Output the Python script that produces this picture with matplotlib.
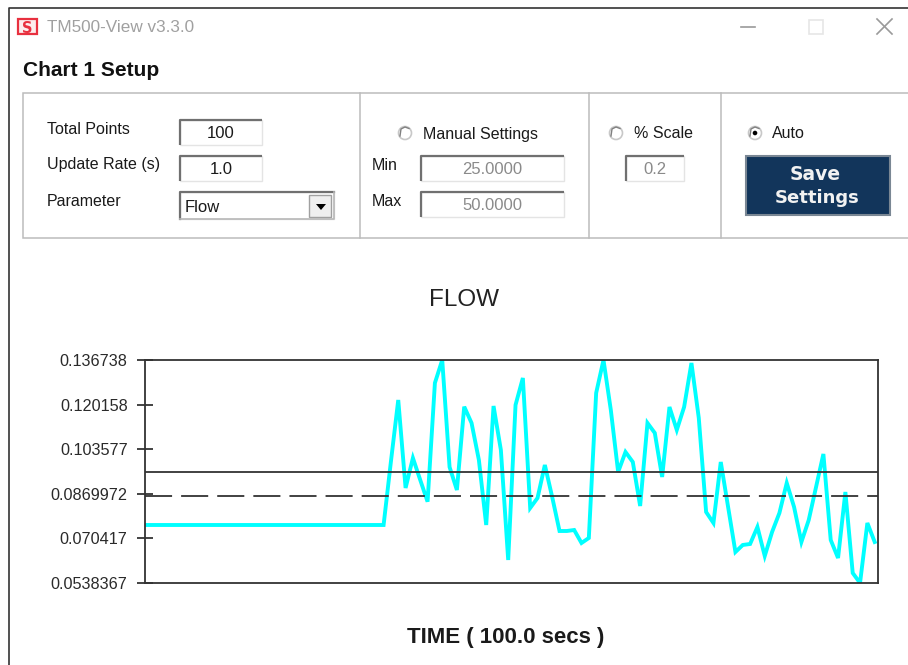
import matplotlib
matplotlib.use("Agg")
import matplotlib.pyplot as plt
from matplotlib.patches import Rectangle, Circle, Polygon

plt.rcParams["font.family"] = ["Liberation Sans", "DejaVu Sans"]

# flat stretch first, then the live readings
flow_flat = [0.07540] * 34
flow_live = [
    0.0990, 0.12187, 0.08916, 0.10031, 0.09213, 0.08406, 0.12819, 0.13674,
    0.09696, 0.08841, 0.11938, 0.11332, 0.09957, 0.07540, 0.11964, 0.10328,
    0.06239, 0.12001, 0.13005, 0.08172, 0.08544, 0.09771, 0.08581, 0.07317,
    0.07317, 0.07354, 0.06871, 0.07057, 0.12447, 0.13674, 0.11815, 0.09510,
    0.10254, 0.09882, 0.08246, 0.11332, 0.10960, 0.09325, 0.11927, 0.11072,
    0.11927, 0.13563, 0.11518, 0.08023, 0.07615, 0.09882, 0.08209, 0.06536,
    0.06797, 0.06834, 0.07466, 0.06388, 0.07280, 0.07986, 0.09102, 0.08209,
    0.06908, 0.07726, 0.08953, 0.10180, 0.06983, 0.06313, 0.08767, 0.05756,
    0.05384, 0.07615, 0.06908,
]
flow = flow_flat + flow_live
# first sample sits just left of the axis, so the trace starts on the spine
samples = list(range(-1, len(flow) - 1))

y_ticks = [0.0538367, 0.070417, 0.0869972, 0.103577, 0.120158, 0.136738]
y_labels = ["0.0538367", "0.070417", "0.0869972", "0.103577", "0.120158", "0.136738"]
upper_line = 0.09522
mean_line = 0.08629

W, H = 908, 665
fig = plt.figure(figsize=(W / 100, H / 100), dpi=100, facecolor="white")

# overlay in pixel coordinates for the dialog around the chart
ui = fig.add_axes([0, 0, 1, 1])
ui.set_xlim(0, W)
ui.set_ylim(H, 0)
ui.axis("off")


def label(x, y, s, size=11.5, color="#1a1a1a", ha="left", **kw):
    ui.text(x, y, s, fontsize=size, color=color, ha=ha, va="center", **kw)


def entry(x0, y0, x1, y1, s, color="#1a1a1a"):
    # sunken text box
    ui.add_patch(Rectangle((x0, y0), x1 - x0, y1 - y0, fc="white", ec="#e4e4e4", lw=1))
    ui.plot([x0, x0, x1], [y1, y0, y0], color="#707070", lw=1.6, solid_capstyle="butt")
    label((x0 + x1) / 2, (y0 + y1) / 2 + 1, s, size=12, color=color, ha="center")


def radio(x, y, on=False):
    ui.add_patch(Circle((x, y), 6.5, fc="white", ec="#c8c8c8", lw=1.2))
    ui.plot([x - 5, x - 4, x, x + 4], [y + 3, y - 4, y - 6, y - 4.5], color="#808080", lw=1)
    if on:
        ui.add_patch(Circle((x, y), 2.3, fc="black", ec="none"))


# window frame and title bar
ui.plot([9, 9, W], [H, 8, 8], color="#333333", lw=1.2)
ui.add_patch(Rectangle((18, 19), 19, 15, fc="#fdeced", ec="#e8303f", lw=1.6))
ui.text(27.5, 27, "S", fontsize=10.5, fontweight="bold", color="#e8303f", ha="center", va="center_baseline",
        family="DejaVu Sans")
label(47, 27, "TM500-View v3.3.0", size=12.3, color="#a0a0a0")
ui.plot([741, 755], [27, 27], color="#9a9a9a", lw=1.2)
ui.add_patch(Rectangle((809, 20), 14, 14, fc="white", ec="#e6e6e6", lw=1.2))
ui.plot([877, 892], [19, 34], color="#9a9a9a", lw=1.2)
ui.plot([877, 892], [34, 19], color="#9a9a9a", lw=1.2)

label(23, 71, "Chart 1 Setup", size=15, fontweight="bold", color="#111111")

# settings panel
ui.add_patch(Rectangle((23, 92.5), W + 10, 145, fc="white", ec="#bcbcbc", lw=1.1))
for x in [360, 589, 721]:
    ui.plot([x, x], [93, 238], color="#bcbcbc", lw=1.1)

label(47, 129, "Total Points")
label(47, 165, "Update Rate (s)")
label(47, 201, "Parameter")
entry(180, 120, 262, 145, "100")
entry(180, 156, 262, 181, "1.0")

ui.add_patch(Rectangle((180, 192), 154, 27, fc="white", ec="#e4e4e4", lw=1))
ui.plot([180, 180, 334], [219, 192, 192], color="#707070", lw=1.6)
ui.plot([334, 334, 180], [192, 219, 219], color="#b8b8b8", lw=1.2)
label(185, 207, "Flow", size=12)
ui.add_patch(Rectangle((309, 195), 22, 22, fc="#efefef", ec="#a0a0a0", lw=1))
ui.add_patch(Polygon([[316, 204], [326, 204], [321, 210]], fc="black", ec="none"))

radio(405, 133)
label(423, 134, "Manual Settings")
label(372, 165, "Min")
label(372, 201, "Max")
entry(421, 156, 564, 181, "25.0000", color="#8a8a8a")
entry(421, 192, 564, 217, "50.0000", color="#8a8a8a")

radio(616, 133)
label(634, 134, "% Scale")
entry(626, 156, 684, 181, "0.2", color="#8a8a8a")

radio(755, 133, on=True)
label(772, 134, "Auto")
ui.add_patch(Rectangle((746, 156), 144, 59, fc="#12355b", ec="#7a8794", lw=1.5))
ui.text(815, 174, "Save", fontsize=13.5, fontweight="bold", color="#f2f2f2", ha="center", va="center", family="DejaVu Sans")
ui.text(817, 198, "Settings", fontsize=13, fontweight="bold", color="#f2f2f2", ha="center", va="center", family="DejaVu Sans")

# the chart itself
left, right, top, bottom = 145, 878, 360, 583
ax = fig.add_axes([left / W, 1 - bottom / H, (right - left) / W, (bottom - top) / H])
ax.plot(samples, flow, color="#00ffff", lw=2.8, solid_joinstyle="miter", clip_on=True)
ax.axhline(upper_line, color="#333333", lw=1.3)
ax.axhline(mean_line, color="#333333", lw=1.3, dashes=(15, 5))
ax.set_xlim(-0.55, 99.45)
ax.set_ylim(y_ticks[0], y_ticks[-1])
ax.set_xticks([])
ax.set_yticks(y_ticks)
ax.set_yticklabels(y_labels, fontsize=11.7, color="#2a2a2a")
ax.tick_params(axis="y", direction="inout", length=11, width=1.2, color="#222222", pad=7)
for spine in ax.spines.values():
    spine.set_linewidth(1.3)
    spine.set_color("#333333")

ui.text(464, 300, "FLOW", fontsize=17.5, color="#222222", ha="center", va="center")
ui.text(505.5, 638, "TIME ( 100.0 secs )", fontsize=16, fontweight="bold", color="#1a1a1a", ha="center", va="center")

fig.savefig("out.png", dpi=100)
